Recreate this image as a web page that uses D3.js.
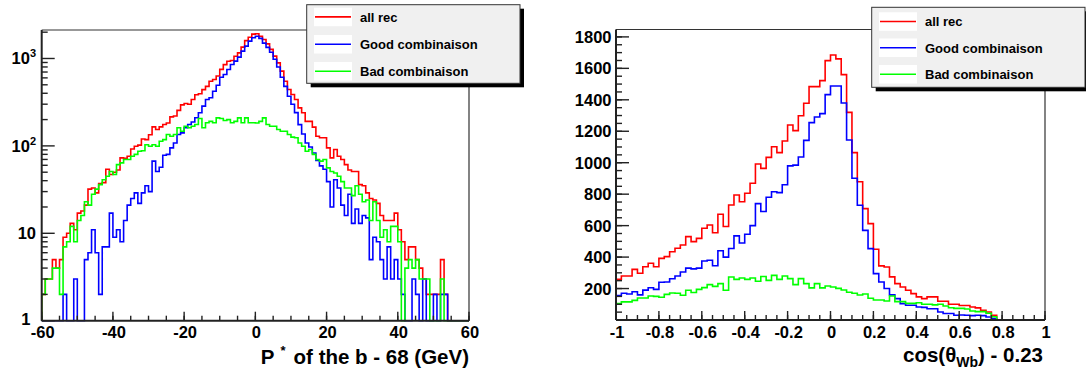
<!DOCTYPE html>
<html><head><meta charset="utf-8">
<script src="https://cdn.jsdelivr.net/npm/d3@7"></script>
<style>
body{margin:0;background:#fff}
svg{display:block}
text{font-family:"Liberation Sans",Arial,Helvetica,sans-serif;font-weight:bold;fill:#000}
</style>
</head><body>
<svg id="c" width="1086" height="368"></svg>
<script>
// ---------- data ----------
const legendLabels = ["all rec", "Good combinaison", "Bad combinaison"];
const seriesColors = ["#ff0000", "#0000ff", "#00ff00"];

// Left histogram: P* of the b - 68 (GeV), 120 bins on [-60, 60]
const pRange = [-60, 60];
const pAllRec = [2,3,3,5,4,5,9,10,13,11, 17,18,21,32,33,29,37,38,54,47,
  50,53,73,72,76,92,99,102,120,118, 134,165,154,165,176,183,215,220,255,295,
  305,300,340,385,395,440,480,550,575,630, 750,850,930,950,1060,1160,1350,1600,1750,1900,
  1915,1800,1650,1470,1270,1065,890,716,550,442, 387,339,272,239,191,191,164,129,124,124,
  95,73,91,76,70,61,53,51,51,36, 35,29,25,24,22,16,14,14,14,17,
  11,8,5,7,7,5,4,3,2,2, 2,2,5,2,0,0,0,0,0,0];
const pGood = [0,0,0,0,0,0,2,0,0,3, 0,0,5,6,11,6,2,7,7,17,
  9,11,8,14,21,25,29,22,29,35, 30,67,51,57,78,80,95,108,135,141,
  161,176,188,210,239,285,339,355,422,495, 611,657,749,853,933,1036,1213,1384,1578,1725,
  1800,1700,1500,1340,1180,980,800,610,480,370, 300,240,175,137,108,97,83,68,59,54,
  39,20,41,33,21,16,28,13,19,13, 16,15,5,9,8,5,3,7,3,5,
  3,2,0,0,3,2,0,3,0,0, 2,0,2,2,0,0,0,0,0,0];
const pBad = [2,3,3,4,4,2,7,8,12,8, 14,16,23,21,28,32,36,41,45,51,
  47,61,64,70,70,76,80,87,88,103, 99,103,99,113,118,135,129,135,161,147,
  168,161,168,176,206,161,184,191,184,209, 206,195,200,184,191,209,184,209,184,184,
  183,191,209,176,168,168,154,147,147,135, 126,124,108,99,87,91,80,70,67,70,
  56,51,49,45,39,33,33,27,35,28, 23,24,14,23,14,9,11,8,12,12,
  8,0,4,5,4,5,3,3,3,0, 0,0,3,0,0,0,0,0,0,0];
const pXTicks = [-60, -40, -20, 0, 20, 40, 60];
const pYTicks = [1, 10, 100, 1000];

// Right histogram: cos(theta_Wb) - 0.23, 80 bins on [-1, 1]
const cRange = [-1, 1];
const cAllRec = [259,280,280,322,297,339,361,339,392,403, 434,456,477,530,498,519,583,604,555,672,
  594,731,795,752,806,869,992,964,1034,1102, 1064,1138,1240,1204,1299,1378,1484,1484,1522,1649,
  1685,1660,1560,1320,1064,879,708,613,450,344, 337,274,231,210,189,168,147,136,147,147,
  119,119,100,100,92,92,83,77,62,51, 30,0,0,0,0,0,0,0,0,0];
const cGood = [155,170,165,180,160,190,205,195,240,242, 262,280,305,330,325,330,375,380,345,440,
  400,455,535,490,545,600,740,690,780,815, 810,860,980,985,1036,1142,1255,1291,1312,1433,
  1488,1488,1380,1144,901,730,570,454,295,242, 200,160,136,104,94,94,83,80,72,72,
  51,41,41,30,32,30,28,30,28,19, 9,0,0,0,0,0,0,0,0,0];
const cBad = [104,115,115,125,140,140,153,150,145,163, 172,170,157,189,175,195,206,225,214,231,
  189,273,258,267,258,267,246,277,252,284, 258,280,263,225,263,231,204,231,204,216,
  210,201,191,176,170,159,165,138,127,127, 121,153,117,117,106,106,110,100,100,96,
  100,89,78,74,74,70,57,53,53,43, 21,0,0,0,0,0,0,0,0,0];
const cXTicks = [-1, -0.8, -0.6, -0.4, -0.2, 0, 0.2, 0.4, 0.6, 0.8, 1];
const cYTicks = [200, 400, 600, 800, 1000, 1200, 1400, 1600, 1800];

// ---------- drawing ----------
const svg = d3.select("#c");

function stepPath(vals, x, y, range, floorV) {
  const w = (range[1] - range[0]) / vals.length;
  let d = `M${x(range[0])},${y(floorV)}`;
  vals.forEach((v, i) => {
    const yy = y(Math.max(v, floorV));
    d += `L${x(range[0] + i * w)},${yy}L${x(range[0] + (i + 1) * w)},${yy}`;
  });
  d += `L${x(range[1])},${y(floorV)}`;
  return d;
}

function panel(cfg) {
  const g = svg.append("g");
  const {x, y, x0, x1, y0, y1} = cfg;
  const clipId = "clip" + cfg.id;
  svg.append("clipPath").attr("id", clipId).append("rect")
    .attr("x", x0).attr("y", y1 - 2).attr("width", x1 - x0).attr("height", y0 - y1 + 3);
  g.append("path").attr("d", `M${x0},${y1}L${x1},${y1}L${x1},${y0}`)
    .attr("fill", "none").attr("stroke", "#333").attr("stroke-width", 1.2);
  const hg = g.append("g").attr("clip-path", `url(#${clipId})`);
  cfg.series.forEach((s, i) => {
    hg.append("path").attr("d", stepPath(s, x, y, cfg.range, cfg.floorV))
      .attr("fill", "none").attr("stroke", seriesColors[i]).attr("stroke-width", 1.6)
      .attr("stroke-linejoin", "miter");
  });
  g.append("line").attr("x1", x0).attr("x2", x0).attr("y1", y1).attr("y2", y0)
    .attr("stroke", "#222").attr("stroke-width", 2);
  g.append("line").attr("x1", x0).attr("x2", x1).attr("y1", y0).attr("y2", y0)
    .attr("stroke", "#222").attr("stroke-width", 2);
  cfg.xMinor.forEach(v => {
    const px = x(v);
    g.append("line").attr("x1", px).attr("x2", px).attr("y1", y0).attr("y2", y0 - 5)
      .attr("stroke", "#222").attr("stroke-width", 1.4);
  });
  cfg.xMajor.forEach(v => {
    const px = x(v);
    g.append("line").attr("x1", px).attr("x2", px).attr("y1", y0).attr("y2", y0 - 9)
      .attr("stroke", "#222").attr("stroke-width", 1.4);
    g.append("text").attr("x", px + 1).attr("y", 337.5).attr("text-anchor", "middle")
      .attr("font-size", 16.5).text(cfg.xFmt(v));
  });
  cfg.yMinor.forEach(v => {
    const py = y(v);
    g.append("line").attr("x1", x0).attr("x2", x0 + 6).attr("y1", py).attr("y2", py)
      .attr("stroke", "#222").attr("stroke-width", 1.4);
  });
  cfg.yMajor.forEach(v => {
    const py = y(v);
    g.append("line").attr("x1", x0).attr("x2", x0 + 13).attr("y1", py).attr("y2", py)
      .attr("stroke", "#222").attr("stroke-width", 1.4);
    cfg.yLabel(g, v, py);
  });
}

// Left panel
const pX = d3.scaleLinear().domain(pRange).range([41.7, 469]);
const pY = d3.scaleLog().domain([1, 2118]).range([320.7, 30]);
const pMinorY = [];
[1, 10, 100, 1000].forEach(dec => d3.range(2, 10).forEach(k => { if (dec * k < 2118) pMinorY.push(dec * k); }));
panel({
  id: "L", x: pX, y: pY, x0: 41.7, x1: 469, y0: 320.7, y1: 30,
  range: pRange, floorV: 1, series: [pAllRec, pGood, pBad],
  xMajor: pXTicks, xMinor: d3.range(-60, 61, 5), xFmt: v => String(v),
  yMajor: pYTicks, yMinor: pMinorY,
  yLabel: (g, v, py) => {
    const t = g.append("text").attr("text-anchor", "end")
      .attr("x", v === 1 ? 30.5 : 36)
      .attr("y", v === 1 ? py + 4.5 : py + 6).attr("font-size", 16.5);
    if (v < 100) t.text(String(v));
    else {
      t.append("tspan").text("10");
      t.append("tspan").attr("font-size", 11).attr("dy", -7).text(String(Math.round(Math.log10(v))));
    }
  }
});

// Right panel
const cX = d3.scaleLinear().domain(cRange).range([616, 1045]);
const cY = d3.scaleLinear().domain([0, 1847]).range([320, 29.5]);
panel({
  id: "R", x: cX, y: cY, x0: 616, x1: 1045, y0: 320, y1: 29.5,
  range: cRange, floorV: 0, series: [cAllRec, cGood, cBad],
  xMajor: cXTicks, xMinor: d3.range(-1, 1.0001, 0.05), xFmt: v => String(+v.toFixed(1)),
  yMajor: cYTicks, yMinor: d3.range(50, 1847, 50),
  yLabel: (g, v, py) => {
    g.append("text").attr("text-anchor", "end").attr("x", 611.5).attr("y", py + 6)
      .attr("font-size", 16.5).text(String(v));
  }
});

// Axis titles
const tL = svg.append("text").attr("x", 469).attr("y", 364).attr("text-anchor", "end").attr("font-size", 20.5);
tL.append("tspan").text("P");
tL.append("tspan").attr("font-size", 13).attr("dy", -9).attr("dx", 6).text("*");
tL.append("tspan").attr("dy", 9).attr("dx", 8).text("of the b - 68 (GeV)");

const tR = svg.append("text").attr("x", 1043).attr("y", 361.5).attr("text-anchor", "end").attr("font-size", 20.5);
tR.append("tspan").text("cos(θ");
tR.append("tspan").attr("font-size", 14).attr("dy", 5).text("Wb");
tR.append("tspan").attr("dy", -5).text(") - 0.23");

// Legends
function legend(bx, by, bw, bh, swX, txtX, baselines) {
  const g = svg.append("g");
  g.append("rect").attr("x", bx + 4).attr("y", by + 4).attr("width", bw).attr("height", bh).attr("fill", "#000");
  g.append("rect").attr("x", bx).attr("y", by).attr("width", bw).attr("height", bh)
    .attr("fill", "#f0f0f0").attr("stroke", "#333").attr("stroke-width", 1);
  legendLabels.forEach((lab, i) => {
    const b = baselines[i];
    g.append("rect").attr("x", swX).attr("y", b - 14).attr("width", 38).attr("height", 18.5).attr("fill", "#fff");
    g.append("line").attr("x1", swX + 1).attr("x2", swX + 37).attr("y1", b - 4.8).attr("y2", b - 4.8)
      .attr("stroke", seriesColors[i]).attr("stroke-width", 1.6);
    g.append("text").attr("x", txtX).attr("y", b).attr("font-size", 13).text(lab);
  });
}
legend(306.7, 4.7, 213.3, 78.6, 314, 360, [21.7, 49, 76]);
legend(871.7, 7.3, 213.3, 80, 879, 925, [26.3, 52.5, 79]);
</script>
</body></html>
